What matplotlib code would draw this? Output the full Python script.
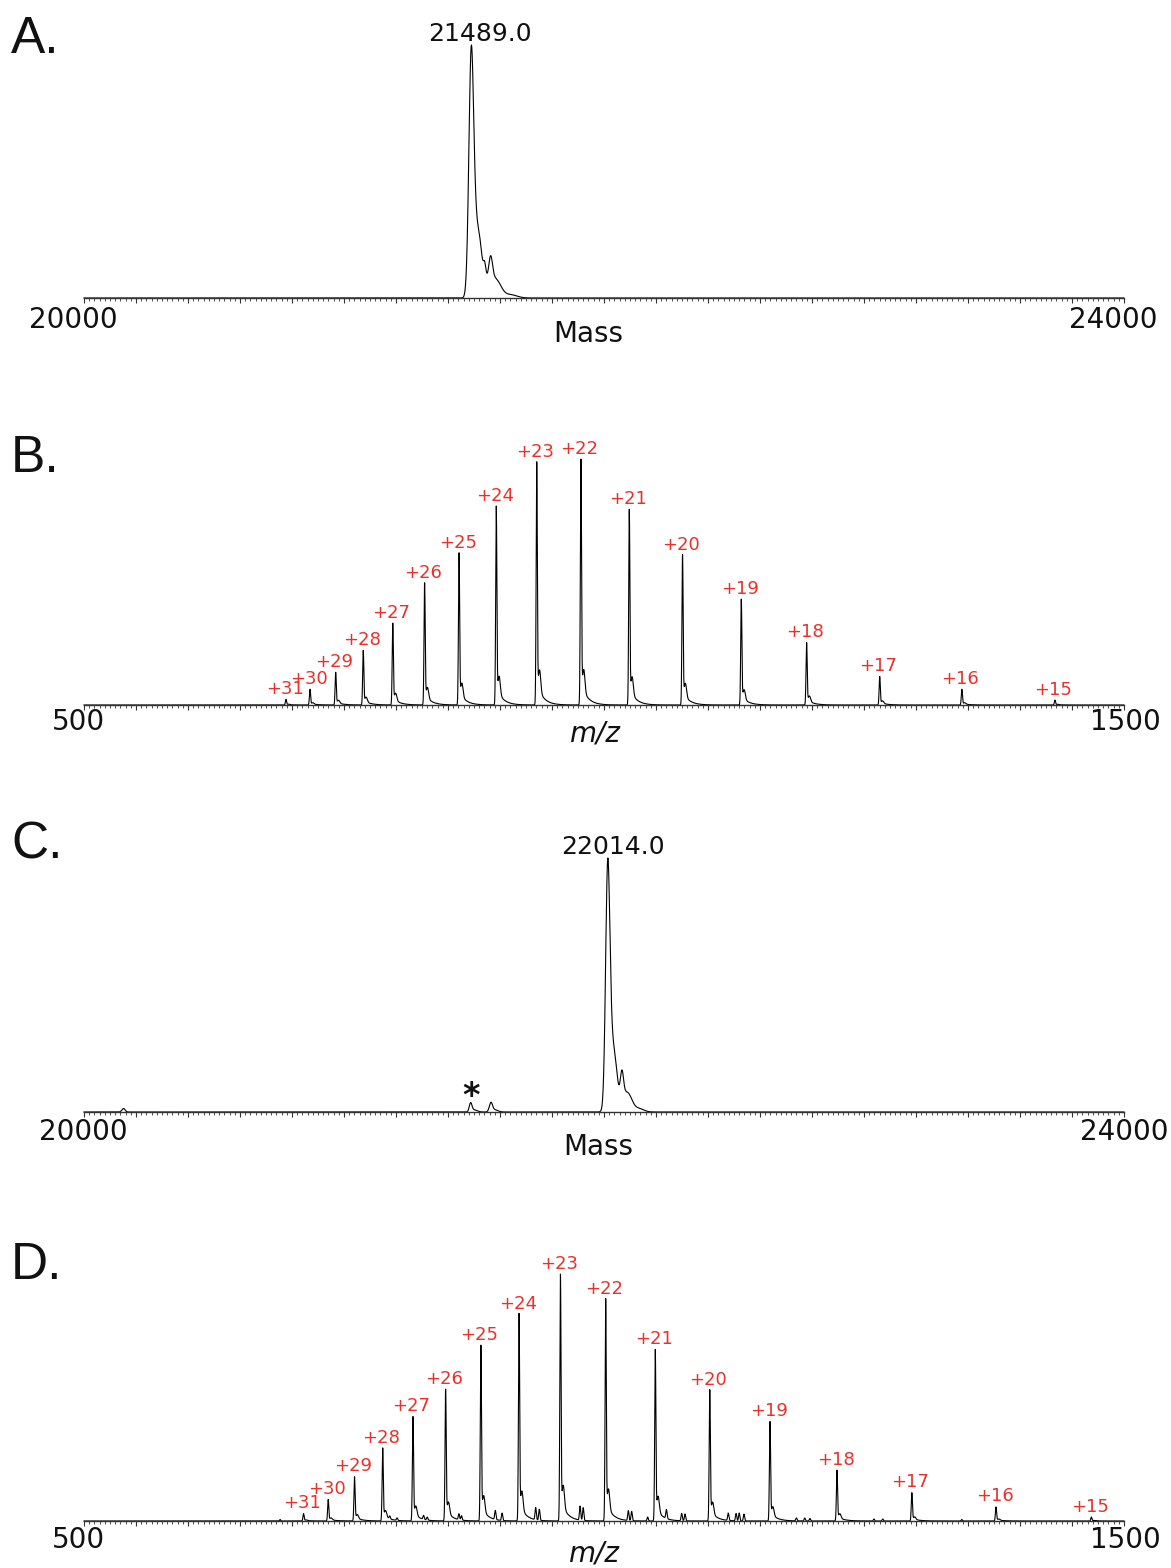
import numpy as np
import matplotlib.pyplot as plt
from matplotlib.ticker import MultipleLocator, NullFormatter

W, H = 1171, 1568
RED = '#e8312a'
plt.rcParams['font.family'] = 'DejaVu Sans'

# --- A: deconvoluted mass spectrum, components (Da, % height, sigma Da)
mass_a = [21489, 21505, 21524, 21541, 21555, 21564, 21590, 21640]
int_a = [100, 30, 12, 7, 8, 10, 5, 1.5]
sig_a = [9, 13, 9, 5, 25, 7, 18, 25]

# --- C: deconvoluted mass spectrum after modification
mass_c = [20152, 21487, 21500, 21565, 21580,
          22014, 22028, 22045, 22065, 22069, 22095, 22135]
int_c = [1.6, 3.8, 1.0, 4.0, 1.0,
         100, 28, 8, 7, 11, 5, 1.5]
sig_c = [6, 5, 12, 6, 12,
         8, 12, 8, 25, 6, 15, 18]

# --- B: charge state envelope (m/z, % of base peak)
charge_b = [31, 30, 29, 28, 27, 26, 25, 24, 23, 22, 21, 20, 19, 18, 17, 16, 15]
mz_b = [694.2, 717.3, 742.0, 768.5, 796.9, 827.5, 860.6, 896.4, 935.3,
        977.8, 1024.3, 1075.5, 1132.0, 1194.8, 1265.1, 1344.1, 1433.6]
int_b = [2.3, 6.4, 13.3, 22.2, 33.3, 49.7, 61.9, 80.9, 98.9,
         100, 79.6, 61.2, 43.1, 25.4, 11.6, 6.4, 2.0]

# --- D: charge state envelope of modified protein
charge_d = charge_b
mz_d = [711.1, 734.8, 760.1, 787.2, 816.3, 847.7, 881.6, 918.3, 958.1,
        1001.6, 1049.3, 1101.7, 1159.6, 1224.0, 1296.0, 1376.9, 1468.6]
int_d = [3.0, 8.7, 17.9, 29.6, 42.3, 53.4, 71.2, 84.1, 100,
         90.1, 69.5, 53.2, 40.3, 20.6, 11.5, 5.7, 1.6]
# minor peaks in D (unmodified species and adducts)
minor_mz_d = [688.5, 794, 801, 826.5, 830, 860.5, 863, 895.5, 902, 934.3, 937.8,
              977.0, 980.0, 1023.4, 1026.6, 1042, 1060, 1074.7, 1077.9,
              1119.5, 1127, 1130, 1134.6, 1185, 1193, 1198, 1259.6, 1268, 1344]
minor_int_d = [0.6, 1.2, 1.0, 1.6, 1.2, 2.4, 1.8, 3.7, 3.0, 5.0, 4.5,
               5.7, 5.2, 4.0, 3.8, 1.6, 3.7, 3.0, 2.8,
               3.0, 3.0, 3.2, 2.8, 1.2, 1.2, 1.0, 0.8, 0.8, 0.6]


def gauss(x, c, h, s):
    return h * np.exp(-(x - c) ** 2 / (2 * s ** 2))


def deconv_trace(x, centres, heights, sigmas):
    y = np.zeros_like(x)
    for c, h, s in zip(centres, heights, sigmas):
        y += gauss(x, c, h, s)
    return y / y.max() * 100


def esi_trace(x, centres, heights):
    y = np.zeros_like(x)
    for c, h in zip(centres, heights):
        y += gauss(x, c, h, 0.55)
        y += gauss(x, c + 2.8, 0.09 * h, 1.1)
        d = np.clip(x - c, 0, None)
        y += np.where(x > c, 0.09 * h * np.exp(-d / 6.0) * (1 - np.exp(-d / 0.8)), 0)
    return y


def px_ax(bottom_px, top_px):
    return [84 / W, 1 - bottom_px / H, 1040 / W, (bottom_px - top_px) / H]


def style_axis(ax, lo, hi, major, minor):
    ax.set_xlim(lo, hi)
    ax.set_ylim(0, 100)
    for s in ['top', 'left', 'right']:
        ax.spines[s].set_visible(False)
    ax.spines['bottom'].set_linewidth(1.0)
    ax.spines['bottom'].set_color('#333333')
    ax.set_yticks([])
    ax.xaxis.set_major_locator(MultipleLocator(major))
    ax.xaxis.set_minor_locator(MultipleLocator(minor))
    ax.xaxis.set_major_formatter(NullFormatter())
    ax.tick_params(axis='x', which='major', direction='out', length=3.8, width=0.8, color='#333333')
    ax.tick_params(axis='x', which='minor', direction='out', length=2.2, width=0.6, color='#333333')
    ax.patch.set_visible(False)


def end_label(ax, x, text, dx, dy):
    ax.annotate(text, (x, 0), xycoords='data', xytext=(dx * 0.72, -dy * 0.72),
                textcoords='offset points', ha='center', va='center', fontsize=20, color='#111111')


def fig_text(fig, x, y, text, **kw):
    fig.text(x / W, 1 - y / H, text, **kw)


fig = plt.figure(figsize=(W / 100, H / 100), dpi=100)

# panel A
x_mass = np.arange(20000, 24000, 0.5)
axA = fig.add_axes(px_ax(298, 45))
style_axis(axA, 20000, 24000, 200, 20)
axA.plot(x_mass, deconv_trace(x_mass, mass_a, int_a, sig_a), color='black', lw=0.8, clip_on=False)
axA.annotate('21489.0', (mass_a[0], 100), xytext=(6.5, 3), textcoords='offset points',
             ha='center', va='baseline', fontsize=18, color='#111111')
end_label(axA, 20000, '20000', -11, 22)
end_label(axA, 24000, '24000', -11, 22)
fig_text(fig, 588, 334, 'Mass', ha='center', va='center', fontsize=20, color='#111111')

# panel B
x_mz = np.arange(500, 1500, 0.1)
axB = fig.add_axes(px_ax(705, 460))
style_axis(axB, 500, 1500, 50, 5)
axB.plot(x_mz, esi_trace(x_mz, mz_b, int_b), color='black', lw=0.8, clip_on=False)
for z, m, h in zip(charge_b, mz_b, int_b):
    axB.annotate(f'+{z}', (m, h), xytext=(-1, 4), textcoords='offset points',
                 ha='center', va='baseline', fontsize=13, color=RED)
end_label(axB, 500, '500', -6, 17)
end_label(axB, 1500, '1500', 1, 17)
fig_text(fig, 595, 733, 'm/z', ha='center', va='center', fontsize=20, style='italic', color='#111111')

# panel C
axC = fig.add_axes(px_ax(1112, 858))
style_axis(axC, 20000, 24000, 200, 20)
yC = deconv_trace(x_mass, mass_c, int_c, sig_c)
axC.plot(x_mass, yC, color='black', lw=0.8, clip_on=False)
axC.annotate('22014.0', (mass_c[5], 100), xytext=(4, 3), textcoords='offset points',
             ha='center', va='baseline', fontsize=18, color='#111111')
axC.annotate('*', (mass_c[1], int_c[1]), xytext=(0, -8), textcoords='offset points',
             ha='center', va='bottom', fontsize=24, fontweight='bold', color='#111111')
end_label(axC, 20000, '20000', -1, 20)
end_label(axC, 24000, '24000', 0, 20)
fig_text(fig, 598, 1147, 'Mass', ha='center', va='center', fontsize=20, color='#111111')

# panel D
axD = fig.add_axes(px_ax(1521, 1275))
style_axis(axD, 500, 1500, 50, 5)
yD = esi_trace(x_mz, mz_d, int_d)
for m, h in zip(minor_mz_d, minor_int_d):
    yD += gauss(x_mz, m, h, 0.6)
axD.plot(x_mz, yD, color='black', lw=0.8, clip_on=False)
for z, m, h in zip(charge_d, mz_d, int_d):
    axD.annotate(f'+{z}', (m, h), xytext=(-1, 4), textcoords='offset points',
                 ha='center', va='baseline', fontsize=13, color=RED)
end_label(axD, 500, '500', -6, 19)
end_label(axD, 1500, '1500', 1, 19)
fig_text(fig, 594, 1553, 'm/z', ha='center', va='center', fontsize=20, style='italic', color='#111111')

# panel letters
letter_font = ['Liberation Sans Narrow', 'Liberation Sans', 'DejaVu Sans']
for letter, ybase in zip(['A.', 'B.', 'C.', 'D.'], [53, 472, 858, 1279]):
    fig_text(fig, 11, ybase, letter, ha='left', va='baseline', fontsize=37,
             family=letter_font, color='#111111')

fig.savefig('out.png', dpi=100)
